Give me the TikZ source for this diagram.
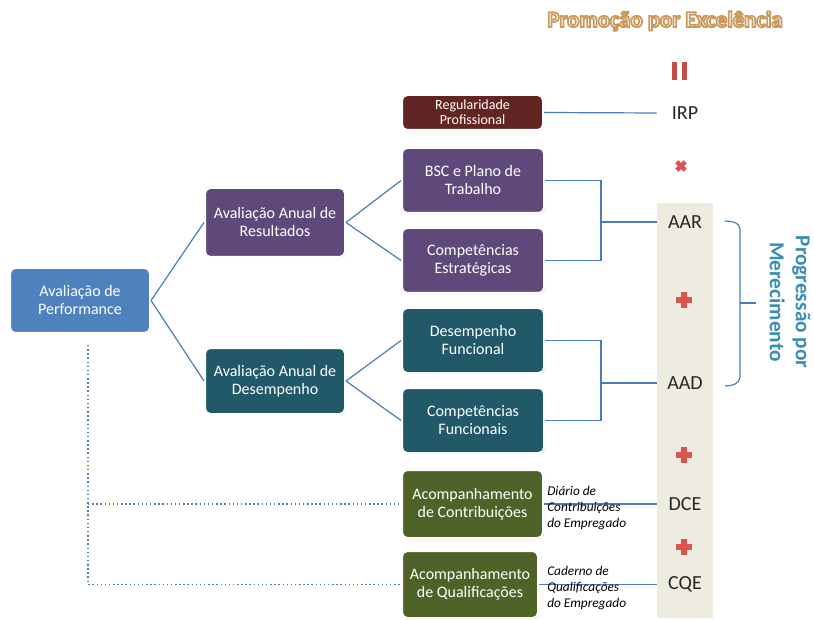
\documentclass[tikz,border=0pt]{standalone}
\usepackage{fontspec}
\setmainfont{Carlito}
\usetikzlibrary{shadows}
\definecolor{perfblue}{HTML}{4F81BD}
\definecolor{purp}{HTML}{5F497A}
\definecolor{tealbox}{HTML}{215968}
\definecolor{olivebox}{HTML}{4F6228}
\definecolor{darkred}{HTML}{632523}
\definecolor{beige}{HTML}{EEECE1}
\definecolor{linecol}{HTML}{4A7EBB}
\definecolor{iconred}{HTML}{DA5450}
\definecolor{progteal}{HTML}{3A8DB2}
\newcommand{\outlinedtext}[2]{\special{pdf:literal direct 2 Tr #1 RG 1.3 w}#2\special{pdf:literal direct 0 Tr}}
\tikzset{
  pics/plusicon/.style={code={
    \fill[iconred] (-8,-3) rectangle (8,3);
    \fill[iconred] (-3,-8) rectangle (3,8);}},
}
\begin{document}
\begin{tikzpicture}[x=0.75pt,y=-0.75pt,
  box/.style={draw=white, line width=1.5pt, rounded corners=4pt, text=white, align=center,
    font=\fontsize{12}{13.5}\selectfont, inner sep=2pt,
    drop shadow={opacity=0.3, shadow xshift=0.8pt, shadow yshift=-0.8pt}},
  conn/.style={draw=linecol, line width=0.9pt},
  dotline/.style={draw=linecol, line width=1.1pt, dotted},
  lab/.style={font=\fontsize{15}{17}\selectfont, text=black!85, minimum width=42pt, inner sep=0pt},
  note/.style={font=\itshape\fontsize{10}{12}\selectfont, align=left, anchor=north west, inner sep=0pt},
]
\useasboundingbox[fill=white] (0,0) rectangle (814,620);

% beige column
\fill[beige] (657,203) rectangle (713,618);

% title (white letters with tan outline)
\node[font=\bfseries\fontsize{17}{19}\selectfont, text=white] (title) at (665,21) {\outlinedtext{0.79 0.6 0.37}{Promoção por Excelência}};

% pause icon
\fill[iconred!90!black] (672,62) rectangle (677,80);
\fill[iconred!90!black] (682,62) rectangle (687,80);

% boxes
\node[box, fill=darkred, minimum width=105.75pt, minimum height=26.25pt, font=\fontsize{10.5}{11}\selectfont] (reg) at (472.5,112.5) {Regularidade\\Profissional};
\node[box, fill=purp, minimum width=106.5pt, minimum height=48.75pt] (bsc) at (473,180.5) {BSC e Plano de\\Trabalho};
\node[box, fill=purp, minimum width=106.5pt, minimum height=48.75pt] (ce) at (473,260.5) {Competências\\Estratégicas};
\node[box, fill=purp, minimum width=105pt, minimum height=51.75pt] (ares) at (275,222.5) {Avaliação Anual de\\Resultados};
\node[box, fill=perfblue, minimum width=105pt, minimum height=48.75pt] (perf) at (80,300.5) {Avaliação de\\Performance};
\node[box, fill=tealbox, minimum width=105pt, minimum height=49.5pt] (ades) at (275,381) {Avaliação Anual de\\Desempenho};
\node[box, fill=tealbox, minimum width=106.5pt, minimum height=48.75pt] (df) at (473,340.5) {Desempenho\\Funcional};
\node[box, fill=tealbox, minimum width=106.5pt, minimum height=48.75pt] (cf) at (473,420.5) {Competências\\Funcionais};
\node[box, fill=olivebox, minimum width=105.75pt, minimum height=51pt] (ac) at (472.5,504) {Acompanhamento\\de Contribuições};
\node[box, fill=olivebox, minimum width=102pt, minimum height=50.25pt] (aq) at (470,584.5) {Acompanhamento\\de Qualificações};

% labels in column
\node[lab] (irp) at (685,113) {IRP};
\node[lab] (aar) at (685,222) {AAR};
\node[lab] (aad) at (685,383) {AAD};
\node[lab] (dce) at (685,504) {DCE};
\node[lab] (cqe) at (685,584.5) {CQE};

% icons
\pic[rotate=45, scale=0.75] at (681,166) {plusicon};
\pic at (684,300) {plusicon};
\pic at (684,455) {plusicon};
\pic at (684,547) {plusicon};

% tree connectors
\draw[conn] (perf.east) -- (ares.west);
\draw[conn] (perf.east) -- (ades.west);
\draw[conn] (ares.east) -- (bsc.west);
\draw[conn] (ares.east) -- (ce.west);
\draw[conn] (ades.east) -- (df.west);
\draw[conn] (ades.east) -- (cf.west);

% bracket connectors
\coordinate (j1) at (601,222);
\coordinate (j2) at (601,383);
\draw[conn] (bsc.east) -| (j1) |- (ce.east);
\draw[conn] (j1) -- (aar.west);
\draw[conn] (df.east) -| (j2) |- (cf.east);
\draw[conn] (j2) -- (aad.west);
\draw[conn] (reg.east) -- (irp.west);
\draw[conn] (ac.east) -- (dce.west);
\draw[conn] (aq.east) -- (cqe.west);

% dotted lines
\coordinate (d0) at (88,345);
\draw[dotline] (d0) |- (aq.west);
\draw[dotline] (d0 |- ac.west) -- (ac.west);

% notes
\node[note] (n1) at (547,486) {Diário de\\Contribuições\\do Empregado};
\node[note] (n2) at (547,566) {Caderno de\\Qualificações\\do Empregado};

% curly bracket
\draw[conn] (725,221) to[out=0,in=90] (740,229) -- (740,377) to[out=-90,in=0] (725,386);
\draw[conn] (740,303) -- (756,303);

% rotated text
\node[rotate=-90, align=center, font=\bfseries\fontsize{16}{19.5}\selectfont, text=progteal] (prog) at (790,302) {Progressão por\\Merecimento};
\end{tikzpicture}
\end{document}
